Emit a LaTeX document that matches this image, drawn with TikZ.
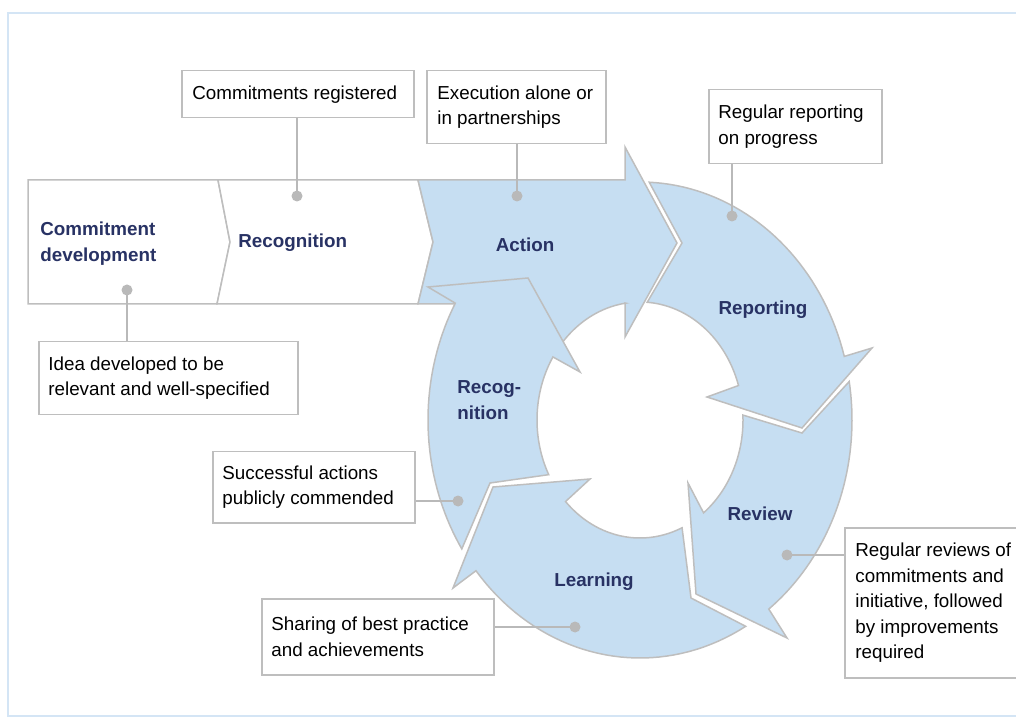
\documentclass[tikz,border=0pt]{standalone}
\usepackage{fontspec}
\setmainfont{Liberation Sans}
\definecolor{ringblue}{RGB}{198,222,242}
\definecolor{edgegray}{RGB}{190,190,190}
\definecolor{dotgray}{RGB}{185,185,185}
\definecolor{navy}{RGB}{40,50,100}
\definecolor{framecol}{RGB}{212,229,245}
\begin{document}
\begin{tikzpicture}[x=0.5pt,y=-0.5pt,
  ring/.style={fill=ringblue, draw=edgegray, line width=0.75pt, line join=miter},
  band/.style={fill=white, draw=edgegray, line width=0.75pt},
  lbl/.style={font=\fontsize{9.4}{13}\selectfont\bfseries, text=navy, inner sep=0pt, align=left},
  box/.style={draw=edgegray, fill=white, line width=0.75pt, inner sep=0pt, anchor=north west},
  ctext/.style={font=\fontsize{9.4}{12.8}\selectfont, align=left, inner sep=0pt, anchor=west},
  dot/.style={circle, fill=dotgray, inner sep=0pt, minimum size=5.5pt},
  lead/.style={draw=dotgray, line width=0.75pt}]
\useasboundingbox (0,0) rectangle (1016,726);
\draw[framecol, line width=1pt] (8,13) rectangle (1030,716);

% left band
\draw[band] (28,180) -- (218,180) -- (230,242) -- (217,304) -- (28,304) -- cycle;
\draw[band] (218,180) -- (418,180) -- (433,242) -- (418,304) -- (217,304) -- (230,242) -- cycle;

% Action
\draw[ring] (418,180) -- (625,180) -- (625,147) -- (677,243) -- (625,337) -- (625,303)
  -- plot[domain=262:219, samples=30, variable=\t] ({640+103*cos(\t)},{420+118*sin(\t)})
  -- (480,304) -- (418,304) -- (433,242) -- cycle;
% Reporting
\draw[ring] (682,243)
  -- plot[domain=-87.5:-15.5, samples=40, variable=\t] ({640+212*cos(\t)},{420+238*sin(\t)})
  -- (872,348) -- (802,428) -- (707,397)
  -- plot[domain=-17:-86, samples=40, variable=\t] ({640+103*cos(\t)},{420+118*sin(\t)})
  -- cycle;
% Review
\draw[ring] (802,433)
  -- plot[domain=-9.3:52.6, samples=40, variable=\t] ({640+212*cos(\t)},{420+238*sin(\t)})
  -- (787,638) -- (696,594) -- (688,483)
  -- plot[domain=51.9:-2.4, samples=40, variable=\t] ({640+103*cos(\t)},{420+118*sin(\t)})
  -- cycle;
% Learning
\draw[ring] (691,598)
  -- plot[domain=60.1:140.7, samples=40, variable=\t] ({640+212*cos(\t)},{420+238*sin(\t)})
  -- (453,588) -- (493,487) -- (590,479)
  -- plot[domain=136.3:65.9, samples=40, variable=\t] ({640+103*cos(\t)},{420+118*sin(\t)})
  -- cycle;
% Recognition (ring)
\draw[ring] (490,483)
  -- plot[domain=147.2:209.4, samples=40, variable=\t] ({640+212*cos(\t)},{420+238*sin(\t)})
  -- (428,287) -- (528,278) -- (580,372)
  -- plot[domain=212.3:152.4, samples=40, variable=\t] ({640+103*cos(\t)},{420+118*sin(\t)})
  -- cycle;

% callout boxes
\node[box, minimum width=116pt, minimum height=23.5pt] (b1) at (181,70) {};
\node[ctext] (t1) at ([xshift=5.5pt]b1.west) {Commitments registered};
\node[box, minimum width=89.5pt, minimum height=36.5pt] (b2) at (426,70) {};
\node[ctext] (t2) at ([xshift=5.5pt]b2.west) {Execution alone or\\in partnerships};
\node[box, minimum width=86.5pt, minimum height=37pt] (b3) at (708,89) {};
\node[ctext] (t3) at ([xshift=5pt]b3.west) {Regular reporting\\on progress};
\node[box, minimum width=129.5pt, minimum height=36.5pt] (b4) at (38,341) {};
\node[ctext] (t4) at ([xshift=5pt]b4.west) {Idea developed to be\\relevant and well-specified};
\node[box, minimum width=101pt, minimum height=35.5pt] (b5) at (212,451) {};
\node[ctext] (t5) at ([xshift=5pt]b5.west) {Successful actions\\publicly commended};
\node[box, minimum width=116pt, minimum height=38pt] (b6) at (261,598) {};
\node[ctext] (t6) at ([xshift=5pt]b6.west) {Sharing of best practice\\and achievements};
\node[box, minimum width=100pt, minimum height=75pt] (b7) at (844,527) {};
\node[ctext] (t7) at ([xshift=5.5pt]b7.west) {Regular reviews of\\commitments and\\initiative, followed\\by improvements\\required};

% dots and leaders
\node[dot] (d1) at (297,196) {};
\node[dot] (d2) at (517,196) {};
\node[dot] (d3) at (732,216) {};
\node[dot] (d4) at (127,290) {};
\node[dot] (d5) at (458,501) {};
\node[dot] (d6) at (575,627) {};
\node[dot] (d7) at (787,555) {};
\draw[lead] (d1.center) -- (d1 |- b1.south);
\draw[lead] (d2.center) -- (d2 |- b2.south);
\draw[lead] (d3.center) -- (d3 |- b3.south);
\draw[lead] (d4.center) -- (d4 |- b4.north);
\draw[lead] (d5.center) -- (b5.east |- d5);
\draw[lead] (d6.center) -- (b6.east |- d6);
\draw[lead] (d7.center) -- (b7.west |- d7);

% labels
\node[lbl, anchor=west] (l1) at (40,244) {Commitment\\development};
\node[lbl, anchor=west] (l2) at (238,243) {Recognition};
\node[lbl] (l3) at (525,245) {Action};
\node[lbl] (l4) at (763,310) {Reporting};
\node[lbl, anchor=west] (l5) at (457,400) {Recog-\\nition};
\node[lbl] (l6) at (760,514) {Review};
\node[lbl] (l7) at (594,582) {Learning};
\end{tikzpicture}
\end{document}
